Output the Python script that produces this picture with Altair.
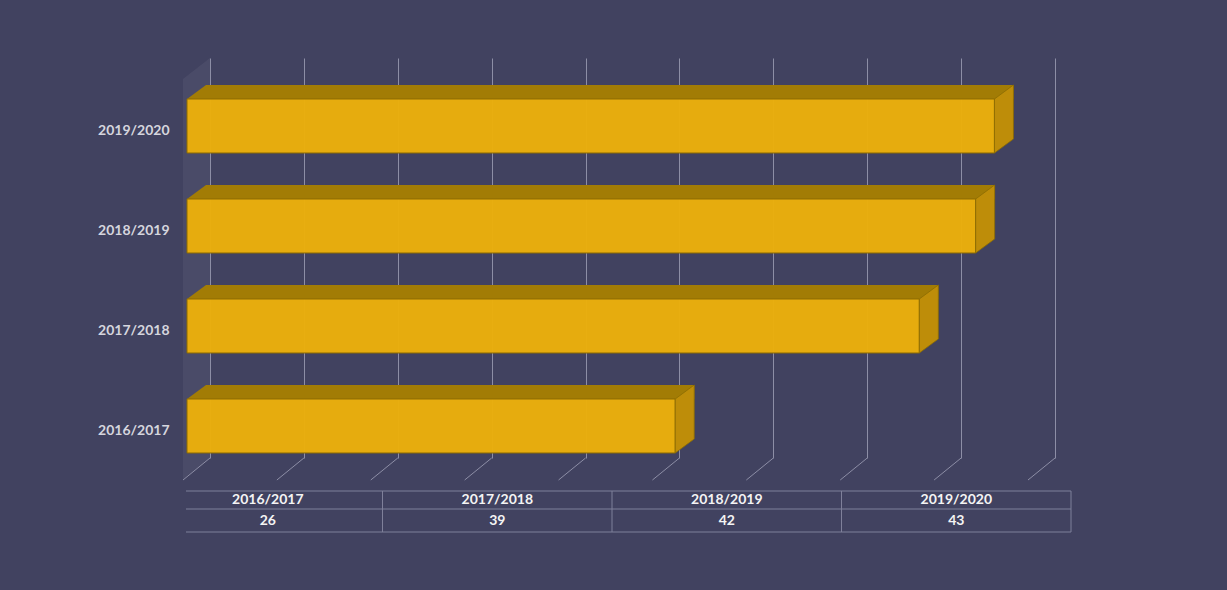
import altair as alt
import pandas as pd

# ---- data ----
seasons = ["2016/2017", "2017/2018", "2018/2019", "2019/2020"]
values = [26, 39, 42, 43]
grid_ticks = [0, 5, 10, 15, 20, 25, 30, 35, 40, 45]

# ---- styles ----
BG = "#414260"
FRONT = "#EBB00B"
TOP = "#A27C05"
SIDE = "#BE8D09"
EDGE = "#8C6C03"
GRID = "#8d8ea6"
TABLE_LINE = "#7f809a"
FONT = "Lato"

order = seasons[::-1]
bars = pd.DataFrame({"season": seasons, "value": values})
floor = pd.DataFrame({"t": grid_ticks})
wall = pd.DataFrame({"k": [0]})

xs = alt.Scale(domain=[0, 45], nice=False, zero=False)
ys = alt.Scale(domain=order, paddingInner=0.46, paddingOuter=0.23, align=0.891)

x_axis = alt.Axis(values=grid_ticks, grid=True, gridColor=GRID, gridWidth=1,
                  tickOffset=23, labels=False, ticks=False, domain=False, title=None)
y_axis = alt.Axis(domain=False, ticks=False, grid=False, tickSize=0, labelPadding=18,
                  labelOffset=5, labelFont=FONT, labelFontSize=14, labelFontWeight="bold",
                  labelColor="#d6d6de", title=None)

y_enc = alt.Y("season:N", scale=ys, axis=y_axis)

# side wall (lighter parallelogram at the left)
side_wall = alt.Chart(wall).mark_point(
    shape="M-4,21 L23,0 L23,400 L-4,421 Z", size=4, filled=True,
    fill="#ffffff", fillOpacity=0.05, strokeWidth=0, opacity=1
).encode(
    x=alt.X("k:Q", scale=xs, axis=x_axis),
    y=alt.value(0),
)

# floor diagonals
floor_lines = alt.Chart(floor).mark_rule(
    color=GRID, strokeWidth=1, xOffset=23, x2Offset=-4
).encode(
    x=alt.X("t:Q", scale=xs, axis=x_axis),
    x2="t:Q",
    y=alt.value(400),
    y2=alt.value(422),
)

# top face body
top_body = alt.Chart(bars).mark_bar(
    height=14, yOffset=-34, xOffset=19, x2Offset=19, color=TOP, strokeWidth=0
).encode(
    x=alt.X("value:Q", scale=xs, axis=x_axis),
    y=y_enc,
)

# top face left triangle
top_left = alt.Chart(bars).transform_calculate(zero="0").mark_point(
    shape="M0,-27 L19,-41 L19,-27 Z", size=4, filled=True, fill=TOP,
    strokeWidth=0, opacity=1
).encode(
    x=alt.X("zero:Q", scale=xs, axis=x_axis),
    y=y_enc,
)

# front face
front = alt.Chart(bars).mark_bar(
    color=FRONT, fillOpacity=0.97, stroke=EDGE, strokeWidth=1
).encode(
    x=alt.X("value:Q", scale=xs, axis=x_axis),
    y=y_enc,
)

# right face
right_face = alt.Chart(bars).mark_point(
    shape="M0,-27 L19,-41 L19,13 L0,27 Z", size=4, filled=True, fill=SIDE,
    stroke=EDGE, strokeWidth=0.8, opacity=1
).encode(
    x=alt.X("value:Q", scale=xs, axis=x_axis),
    y=y_enc,
)

main = alt.layer(side_wall, floor_lines, top_body, top_left, front, right_face)

# ---- data table ----
table = pd.DataFrame({"season": seasons, "value": values})
table["mid"] = [i + 0.5 for i in range(len(seasons))]
table["hy"] = 0.5
table["vy"] = 1.5
hlines = pd.DataFrame({"r": [0, 1, 2], "a": [0, 0, 0], "b": [4, 4, 4]})
vlines = pd.DataFrame({"c": [1, 2, 3, 4], "r0": [0, 0, 0, 0], "r1": [2, 2, 2, 2]})

tx = alt.Scale(domain=[0, 4], range=[-34, 884], nice=False, zero=False)
ty = alt.Scale(domain=[0, 1, 2], range=[433, 451, 474], nice=False, zero=False)

h_rules = alt.Chart(hlines).mark_rule(color=TABLE_LINE, strokeWidth=1, xOffset=33).encode(
    x=alt.X("a:Q", scale=tx, axis=None), x2="b:Q",
    y=alt.Y("r:Q", scale=ty, axis=None),
)
v_rules = alt.Chart(vlines).mark_rule(color=TABLE_LINE, strokeWidth=1).encode(
    x=alt.X("c:Q", scale=tx, axis=None),
    y=alt.Y("r0:Q", scale=ty, axis=None), y2="r1:Q",
)
head_text = alt.Chart(table).mark_text(
    font=FONT, fontSize=14, fontWeight="bold", color="#f4f4f4",
    align="center", baseline="middle"
).encode(
    x=alt.X("mid:Q", scale=tx, axis=None),
    y=alt.Y("hy:Q", scale=ty, axis=None),
    text="season:N",
)
val_text = alt.Chart(table).mark_text(
    font=FONT, fontSize=14, fontWeight="bold", color="#f4f4f4",
    align="center", baseline="middle"
).encode(
    x=alt.X("mid:Q", scale=tx, axis=None),
    y=alt.Y("vy:Q", scale=ty, axis=None),
    text="value:Q",
)
tbl = alt.layer(h_rules, v_rules, head_text, val_text)

chart = alt.layer(main, tbl).resolve_scale(
    x="independent", y="independent"
).properties(
    width=845, height=400,
    autosize=alt.AutoSizeParams(type="none"),
    padding={"left": 187, "top": 58, "right": 195, "bottom": 132},
).configure(background=BG).configure_view(strokeWidth=0)

chart.save("out.html", embed_options={"renderer": "svg", "actions": False})
